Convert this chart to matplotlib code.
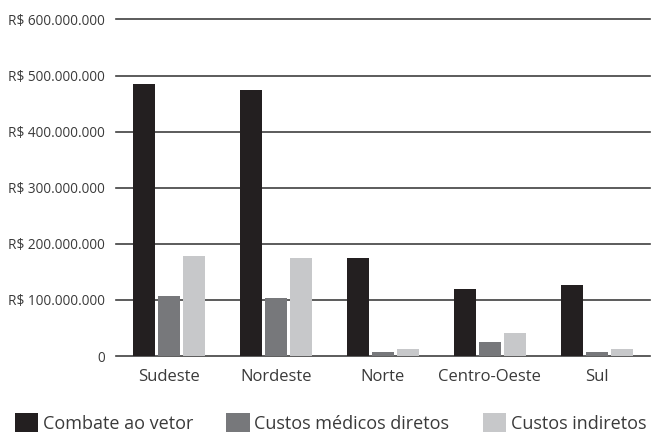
import matplotlib
matplotlib.use('Agg')
import matplotlib.pyplot as plt
import numpy as np

plt.rcParams['font.family'] = ['Open Sans', 'DejaVu Sans']

regioes = ['Sudeste', 'Nordeste', 'Norte', 'Centro-Oeste', 'Sul']
series = ['Combate ao vetor', 'Custos médicos diretos', 'Custos indiretos']
combate = [485e6, 474e6, 175e6, 119.5e6, 127e6]
medicos = [107e6, 103e6, 7e6, 25e6, 7e6]
indiretos = [179e6, 175e6, 12.5e6, 41e6, 12.5e6]
yticks = [0, 100e6, 200e6, 300e6, 400e6, 500e6, 600e6]
ylabels = ['0', 'R$ 100.000.000', 'R$ 200.000.000', 'R$ 300.000.000',
           'R$ 400.000.000', 'R$ 500.000.000', 'R$ 600.000.000']
cores = ['#231f20', '#77787b', '#c7c8ca']

fig = plt.figure(figsize=(6.51, 4.40), dpi=100)
ax = fig.add_axes([116 / 651, 1 - 356 / 440, 534 / 651, (356 - 19.5) / 440])

x = np.arange(len(regioes))
largura = 22 / 107
passo = 25 / 107
for i, (vals, cor, nome) in enumerate(zip([combate, medicos, indiretos], cores, series)):
    ax.bar(x + (i - 1) * passo, vals, width=largura, color=cor, label=nome, zorder=3)

for v in yticks:
    ax.axhline(v, color='#404040', linewidth=1.2, zorder=1, clip_on=False)

ax.set_xlim(-0.5, 4.5)
ax.set_ylim(0, 600e6)
ax.set_yticks(yticks)
ax.set_yticklabels(ylabels, fontsize=9.8, color='#3a3a3a')
ax.set_xticks(x)
ax.set_xticklabels(regioes, fontsize=12, color='#3a3a3a')
ax.tick_params(axis='y', length=0, pad=8)
ax.tick_params(axis='x', length=0, pad=9)
for s in ax.spines.values():
    s.set_visible(False)

fig.legend(loc='lower left', bbox_to_anchor=(0.003, -0.012), ncol=3, frameon=False,
           fontsize=13, handlelength=1.3, handleheight=1.2, handletextpad=0.25,
           columnspacing=1.85, labelcolor='#3a3a3a', borderaxespad=0.3)

fig.savefig('out.png', dpi=100)
